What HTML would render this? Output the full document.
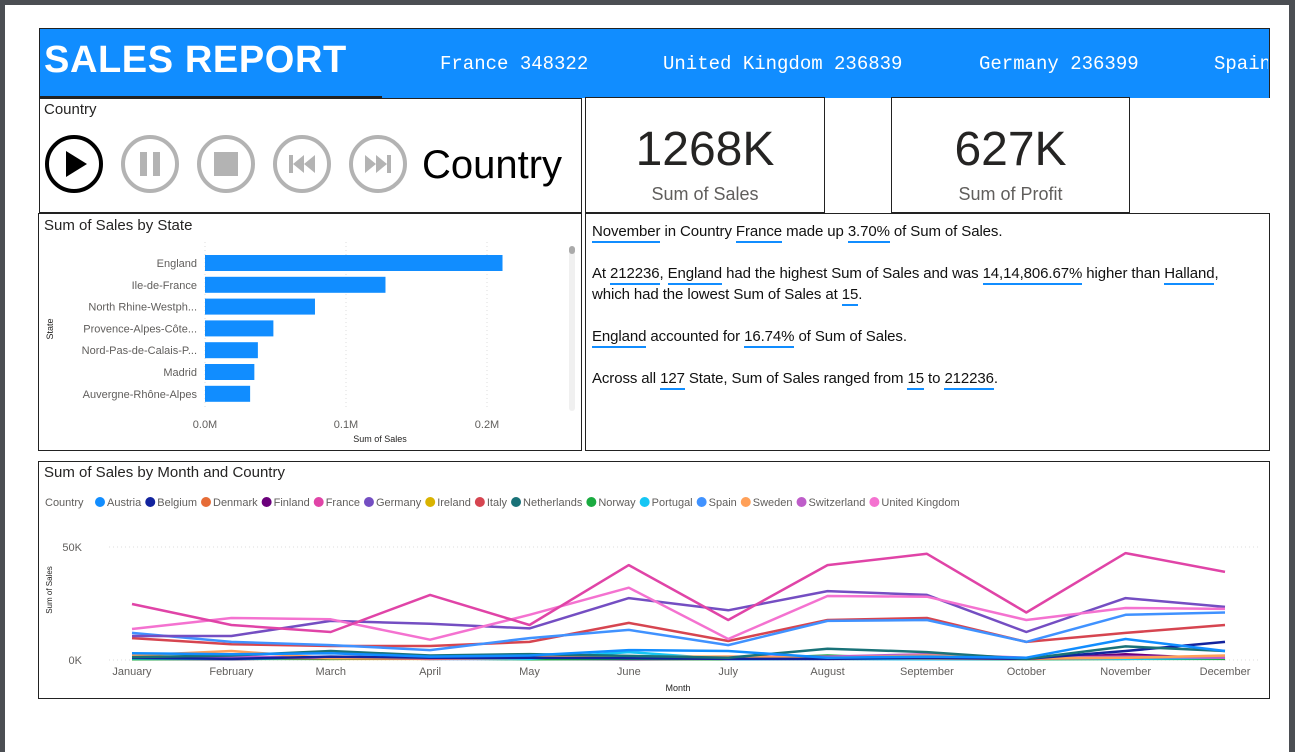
<!DOCTYPE html>
<html><head><meta charset="utf-8">
<style>
*{box-sizing:border-box;margin:0;padding:0}
body{width:1295px;height:752px;position:relative;background:#fff;font-family:"Liberation Sans",sans-serif;overflow:hidden;color:#252423}
.abs{position:absolute}
.box{position:absolute;border:1px solid #222;background:#fff}
.u{border-bottom:2px solid #118DFF;padding-bottom:1px}
.ins{font-size:15px;letter-spacing:-0.1px;line-height:21px;color:#111}
.tk{position:absolute;top:53px;font-family:'Liberation Mono',monospace;font-size:19px;color:#fff;white-space:nowrap}
</style></head><body>
<div class="abs" style="left:0;top:0;width:1295px;height:5px;background:#4b4e53"></div>
<div class="abs" style="left:0;top:0;width:5px;height:752px;background:#4b4e53"></div>
<div class="abs" style="left:1289px;top:0;width:6px;height:752px;background:#4b4e53"></div>

<div class="abs" style="left:39px;top:28px;width:1231px;height:70px;background:#118DFF;border-top:1px solid #222;border-left:1px solid #222;border-right:1px solid #222"></div>
<div class="abs" style="left:39px;top:96px;width:343px;height:2px;background:#222"></div>
<div class="abs" style="left:44px;top:39px;font-size:38px;font-weight:bold;color:#fff;letter-spacing:0.6px">SALES REPORT</div>
<div class="abs" style="left:0;top:0;width:1268px;height:98px;overflow:hidden">
  <span class="tk" style="left:440px">France 348322</span>
  <span class="tk" style="left:663px">United Kingdom 236839</span>
  <span class="tk" style="left:979px">Germany 236399</span>
  <span class="tk" style="left:1214px">Spain</span>
</div>

<div class="box" style="left:39px;top:98px;width:543px;height:115px">
  <div class="abs" style="left:4px;top:2px;font-size:15px">Country</div>
  <svg class="abs" style="left:4px;top:35px" width="370" height="64">
    <g><circle cx="30" cy="30" r="27" fill="none" stroke="#000" stroke-width="4"/><polygon points="22,17 43,30 22,43" fill="#000"/></g>
    <g><circle cx="106" cy="30" r="27" fill="none" stroke="#b3b3b3" stroke-width="4"/><rect x="96" y="18" width="7" height="24" fill="#b3b3b3"/><rect x="109" y="18" width="7" height="24" fill="#b3b3b3"/></g>
    <g><circle cx="182" cy="30" r="27" fill="none" stroke="#b3b3b3" stroke-width="4"/><rect x="170" y="18" width="24" height="24" fill="#b3b3b3"/></g>
    <g><circle cx="258" cy="30" r="27" fill="none" stroke="#b3b3b3" stroke-width="4"/><rect x="245" y="21" width="4" height="18" fill="#b3b3b3"/><polygon points="260,21 249,30 260,39" fill="#b3b3b3"/><polygon points="271,21 260,30 271,39" fill="#b3b3b3"/></g>
    <g><circle cx="334" cy="30" r="27" fill="none" stroke="#b3b3b3" stroke-width="4"/><polygon points="321,21 332,30 321,39" fill="#b3b3b3"/><polygon points="332,21 343,30 332,39" fill="#b3b3b3"/><rect x="343" y="21" width="4" height="18" fill="#b3b3b3"/></g>
  </svg>
  <div class="abs" style="left:382px;top:44px;font-size:40px;color:#000">Country</div>
</div>

<div class="box" style="left:585px;top:97px;width:240px;height:116px">
  <div class="abs" style="left:0;top:24px;width:100%;text-align:center;font-size:48px;color:#252423">1268K</div>
  <div class="abs" style="left:0;top:86px;width:100%;text-align:center;font-size:18px;color:#605e5c">Sum of Sales</div>
</div>
<div class="box" style="left:891px;top:97px;width:239px;height:116px">
  <div class="abs" style="left:0;top:24px;width:100%;text-align:center;font-size:48px;color:#252423">627K</div>
  <div class="abs" style="left:0;top:86px;width:100%;text-align:center;font-size:18px;color:#605e5c">Sum of Profit</div>
</div>

<div class="box" style="left:38px;top:213px;width:544px;height:238px">
  <div class="abs" style="left:5px;top:3px;font-size:15px">Sum of Sales by State</div>
  <svg class="abs" style="left:0;top:0" width="542" height="236" id="barsvg"></svg>
</div>

<div class="box ins" style="left:585px;top:213px;width:685px;height:238px;padding:7px 0 0 6px">
  <div><span class="u">November</span> in Country <span class="u">France</span> made up <span class="u">3.70%</span> of Sum of Sales.</div>
  <div style="margin-top:21px">At <span class="u">212236</span>, <span class="u">England</span> had the highest Sum of Sales and was <span class="u">14,14,806.67%</span> higher than <span class="u">Halland</span>,<br>which had the lowest Sum of Sales at <span class="u">15</span>.</div>
  <div style="margin-top:21px"><span class="u">England</span> accounted for <span class="u">16.74%</span> of Sum of Sales.</div>
  <div style="margin-top:21px">Across all <span class="u">127</span> State, Sum of Sales ranged from <span class="u">15</span> to <span class="u">212236</span>.</div>
</div>

<div class="box" style="left:38px;top:461px;width:1232px;height:238px">
  <div class="abs" style="left:5px;top:2px;font-size:15px">Sum of Sales by Month and Country</div>
  <svg class="abs" style="left:0;top:0" width="1230" height="236" id="linesvg"></svg>
</div>

<script>
const NS="http://www.w3.org/2000/svg";
function mk(p,t,a){const e=document.createElementNS(NS,t);for(const k in a)e.setAttribute(k,a[k]);p.appendChild(e);return e;}

// ---- Bar chart data ----
const states=["England","Ile-de-France","North Rhine-Westph...","Provence-Alpes-Côte...","Nord-Pas-de-Calais-P...","Madrid","Auvergne-Rhône-Alpes"];
const stateSales=[211000,128000,78000,48500,37500,35000,32000];
const barTicks=[0,100000,200000];
const barTickLabels=["0.0M","0.1M","0.2M"];

const bs=document.getElementById('barsvg');
const bx=v=>166+v*141/100000;
const by=i=>49+i*21.8;
barTicks.forEach((t,i)=>{
  const g=mk(bs,'line',{x1:bx(t),x2:bx(t),y1:28,y2:195,stroke:'#ddd','stroke-dasharray':'1,3'});
  
  
  const l=mk(bs,'text',{x:bx(t),y:214,'text-anchor':'middle','font-size':11,fill:'#605e5c'});
  l.textContent=barTickLabels[i];
  
  
});
states.forEach((s,i)=>{
  const r=mk(bs,'rect',{x:bx(0),y:by(i)-8,width:bx(stateSales[i])-bx(0),height:16,fill:'#118DFF'});
  
  
  const t=mk(bs,'text',{x:158,y:by(i)+4,'text-anchor':'end','font-size':11,fill:'#605e5c'});
  t.textContent=s;
  
  
});
let t1=mk(bs,'text',{x:341,y:228,'text-anchor':'middle','font-size':9,fill:'#252423'});t1.textContent="Sum of Sales";


let t2=mk(bs,'text',{x:0,y:0,'text-anchor':'middle','font-size':9,fill:'#252423',transform:'translate(14,115) rotate(-90)'});t2.textContent="State";


let sb=mk(bs,'rect',{x:530,y:32,width:6,height:165,rx:3,fill:'#f0f0f0'});


let sth=mk(bs,'rect',{x:530,y:32,width:6,height:8,rx:3,fill:'#aaa'});



// ---- Line chart data (values in K) ----
const months=["January","February","March","April","May","June","July","August","September","October","November","December"];
const countries=["Austria","Belgium","Denmark","Finland","France","Germany","Ireland","Italy","Netherlands","Norway","Portugal","Spain","Sweden","Switzerland","United Kingdom"];
const colors=["#118DFF","#12239E","#E66C37","#6B007B","#E044A7","#744EC2","#D9B300","#D64550","#197278","#1AAB40","#15C6F4","#4092FF","#FFA058","#BE5DC9","#F472D0"];
const sAustria=[3,2.5,3,1.5,2,4.4,4,1,1.5,1,9.3,4];
const sBelgium=[1,0.5,1.5,1,1,0.8,0.5,0.5,1,0.5,4,8];
const sDenmark=[1.5,1,0.8,0.5,1,1,0.5,1,0.8,0.5,1,1.5];
const sFinland=[0.5,0.3,1,0.5,0.5,0.3,0.5,0.5,0.5,0.3,2.5,0.5];
const sFrance=[24.8,15.5,12.4,28.8,15.5,42,17.7,42,47,21,47.3,39];
const sGermany=[10.6,10.6,17.3,16,14,27.4,22,30.5,28.8,12.4,27.4,23.5];
const sIreland=[0.5,0.8,0.5,0.5,0.8,0.5,0.5,0.5,0.5,0.5,0.5,1];
const sItaly=[9.7,7,6.2,6.2,8,16.4,8.4,17.7,18.6,8,12,15.5];
const sNetherlands=[1.3,2,4,2,2.6,1.8,1,5,3.5,0.5,6,4];
const sNorway=[0.3,0.5,0.5,0.8,0.3,0.5,0.3,2,0.5,0.3,0.5,0.5];
const sPortugal=[0.8,0.5,1,0.5,0.5,3.5,0.3,0.5,0.3,0.5,0.5,1];
const sSpain=[12,8,6.6,4.4,9.7,13.3,6.6,17.3,17.7,8,20,21];
const sSweden=[2,4,0.8,1,1.5,1.5,1.5,1,2,0.8,1,2];
const sSwitzerland=[1,1.5,1,0.8,1,1.2,1.5,1.5,2.5,1,1.5,1];
const sUK=[13.7,18.6,18,9,20,32,9.3,28.3,28,17.7,23,22.6];
const series=[sAustria,sBelgium,sDenmark,sFinland,sFrance,sGermany,sIreland,sItaly,sNetherlands,sNorway,sPortugal,sSpain,sSweden,sSwitzerland,sUK];
const yTicks=[0,50];
const yTickLabels=["0K","50K"];

const ls=document.getElementById('linesvg');
const lx=i=>93+i*(1093/11);
const ly=v=>198-v*2.26;
let lgx=6;
let lgt=mk(ls,'text',{x:lgx,y:44,'font-size':11,fill:'#605e5c'});lgt.textContent="Country";


lgx+=50;
countries.forEach((c,i)=>{
  const g=mk(ls,'g',{});
  
  
  mk(g,'circle',{cx:lgx+5,cy:40,r:5,fill:colors[i]});
  const t=mk(g,'text',{x:lgx+12,y:44,'font-size':11,fill:'#605e5c'});t.textContent=c;
  lgx+=12+t.getComputedTextLength()+4;
});
yTicks.forEach((t,i)=>{
  const g=mk(ls,'line',{x1:70,x2:1222,y1:ly(t),y2:ly(t),stroke:'#ddd','stroke-dasharray':'1,3'});
  
  
  const l=mk(ls,'text',{x:43,y:ly(t)+4,'text-anchor':'end','font-size':11,fill:'#605e5c'});l.textContent=yTickLabels[i];
  
  
});
months.forEach((m,i)=>{
  const t=mk(ls,'text',{x:lx(i),y:213,'text-anchor':'middle','font-size':11,fill:'#605e5c'});t.textContent=m;
  
  
});
let xt=mk(ls,'text',{x:639,y:229,'text-anchor':'middle','font-size':9,fill:'#252423'});xt.textContent="Month";


let yt=mk(ls,'text',{x:0,y:0,'text-anchor':'middle','font-size':8,fill:'#252423',transform:'translate(13,128) rotate(-90)'});yt.textContent="Sum of Sales";


const order=[6,3,9,10,2,13,12,1,8,0,7,11,5,14,4];
order.forEach(i=>{
  const d=series[i].map((v,j)=>(j?'L':'M')+lx(j).toFixed(1)+','+ly(v).toFixed(1)).join(' ');
  const p=mk(ls,'path',{d:d,fill:'none',stroke:colors[i],'stroke-width':2.5,'stroke-linejoin':'round'});
  
  
});
</script>
</body></html>
